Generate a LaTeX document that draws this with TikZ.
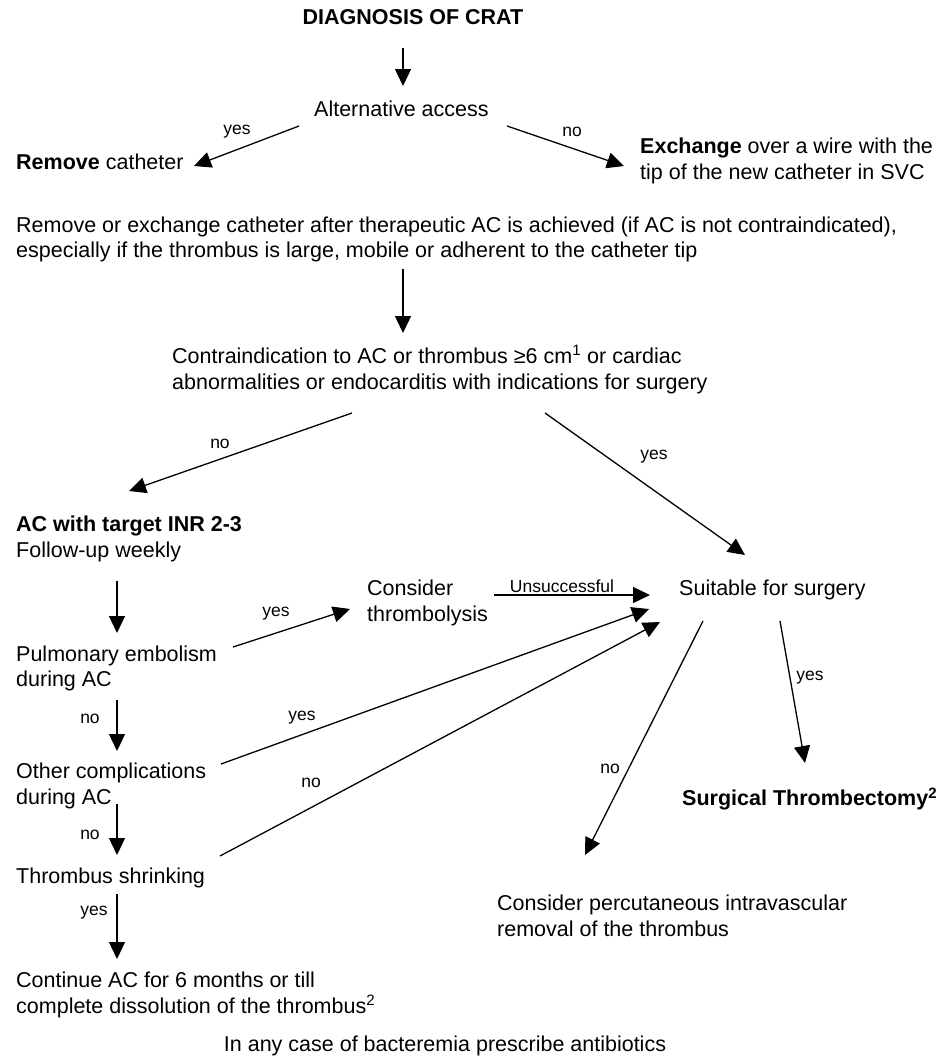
\documentclass[tikz,border=0pt]{standalone}
\usepackage{fontspec}
\setmainfont{Liberation Sans}
\usetikzlibrary{arrows.meta}
\newcommand{\bodyf}{\fontsize{21.5}{25.7}\selectfont}
\newcommand{\lblf}{\fontsize{17.5}{20}\selectfont}
\begin{document}
\begin{tikzpicture}[x=1pt,y=-1pt,
  txt/.style={inner sep=0pt, anchor=west, align=left, font=\bodyf},
  lbl/.style={inner sep=0pt, font=\lblf},
  arr/.style={line width=1.3pt, -{Triangle[length=17pt,width=16pt]}}]
\fill[white] (0,0) rectangle (944,1058);
\useasboundingbox (0,0) rectangle (944,1058);
% nodes
\node[txt, anchor=center, font=\bodyf\bfseries] (title) at (413,17) {DIAGNOSIS OF CRAT};
\node[txt] (alt) at (314,109) {Alternative access};
\node[txt] (remove) at (16,162) {\textbf{Remove} catheter};
\node[txt] (exch) at (640,161) {\textbf{Exchange} over a wire with the\\tip of the new catheter in SVC};
\node[txt] (remex) at (16,239.5) {Remove or exchange catheter after therapeutic AC is achieved (if AC is not contraindicated),\\especially if the thrombus is large, mobile or adherent to the catheter tip};
\node[txt] (contra) at (172,369.5) {Contraindication to AC or thrombus ≥6 cm\textsuperscript{1} or cardiac\\abnormalities or endocarditis with indications for surgery};
\node[txt] (acw) at (16,539) {\textbf{AC with target INR 2-3}\\Follow-up weekly};
\node[txt] (pe) at (16,668.5) {Pulmonary embolism\\during AC};
\node[txt] (consider) at (367,603) {Consider\\thrombolysis};
\node[txt] (suit) at (679,590) {Suitable for surgery};
\node[txt] (other) at (16,786) {Other complications\\during AC};
\node[txt] (shrink) at (16,878) {Thrombus shrinking};
\node[txt] (cont) at (16,995) {Continue AC for 6 months or till\\complete dissolution of the thrombus\textsuperscript{2}};
\node[txt] (surg) at (682,799) {\textbf{Surgical Thrombectomy\textsuperscript{2}}};
\node[txt] (perc) at (497,916) {Consider percutaneous intravascular\\removal of the thrombus};
\node[txt, anchor=center] (bact) at (445,1046) {In any case of bacteremia prescribe antibiotics};
% connectors
\draw[arr] ([shift={(-10,31)}]title.center) -- ([shift={(89,-23)}]alt.west);
\draw[arr] ([shift={(-15,17)}]alt.west) -- ([shift={(178,4)}]remove.west);
\draw[arr] ([shift={(193,17)}]alt.west) -- ([shift={(-16,5)}]exch.west);
\draw[arr] ([shift={(387,29.5)}]remex.west) -- ([shift={(231,-36.5)}]contra.west);
\draw[arr] ([shift={(180,43.5)}]contra.west) -- ([shift={(113,-48)}]acw.west);
\draw[arr] ([shift={(373,43.5)}]contra.west) -- ([shift={(66,-35)}]suit.west);
\draw[arr] ([shift={(101,42)}]acw.west) -- ([shift={(101,-35.5)}]pe.west);
\draw[arr] ([shift={(217,-21.5)}]pe.west) -- ([shift={(-17,6)}]consider.west);
\draw[arr] ([shift={(127,-8)}]consider.west) -- ([shift={(-29,5)}]suit.west);
\draw[arr] ([shift={(101,31.5)}]pe.west) -- ([shift={(101,-35)}]other.west);
\draw[arr] ([shift={(205,-22)}]other.west) -- ([shift={(-30,19)}]suit.west);
\draw[arr] ([shift={(204,-22)}]shrink.west) -- ([shift={(-19,32)}]suit.west);
\draw[arr] ([shift={(101,18)}]other.west) -- ([shift={(101,-23)}]shrink.west);
\draw[arr] ([shift={(101,16)}]shrink.west) -- ([shift={(101,-36)}]cont.west);
\draw[arr] ([shift={(24,31)}]suit.west) -- ([shift={(88,-61)}]perc.west);
\draw[arr] ([shift={(101,31)}]suit.west) -- ([shift={(123,-36)}]surg.west);
% labels
\node[lbl] (l1) at (237,132) {yes};
\node[lbl] (l2) at (572,132) {no};
\node[lbl] (l3) at (220,444) {no};
\node[lbl] (l4) at (654,457) {yes};
\node[lbl] (l5) at (276,614) {yes};
\node[lbl] (l6) at (562,586) {Unsuccessful};
\node[lbl] (l7) at (90,719) {no};
\node[lbl] (l8) at (302,718) {yes};
\node[lbl] (l9) at (311,783) {no};
\node[lbl] (l10) at (90,835) {no};
\node[lbl] (l11) at (94,913) {yes};
\node[lbl] (l12) at (610,769) {no};
\node[lbl] (l13) at (810,678) {yes};
\end{tikzpicture}
\end{document}
